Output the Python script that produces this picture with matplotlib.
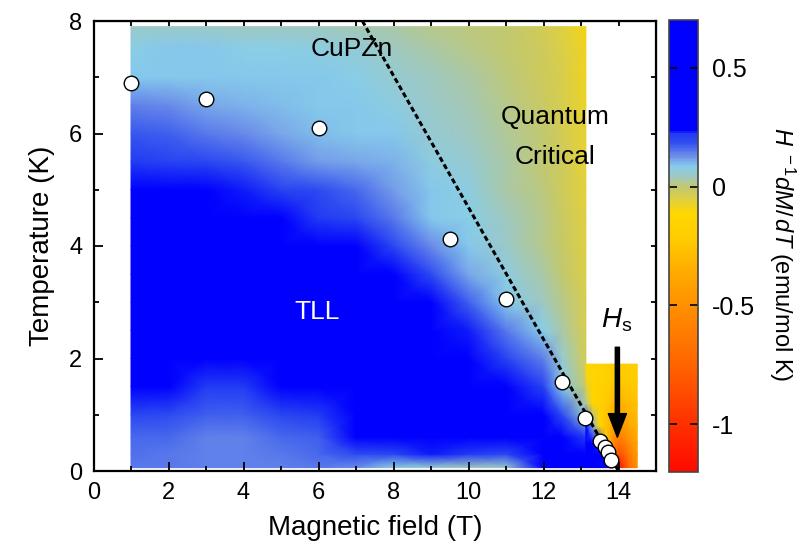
import numpy as np
import matplotlib
matplotlib.use("Agg")
import matplotlib.pyplot as plt
from matplotlib.colors import LinearSegmentedColormap

plt.rcParams['font.family'] = ['Liberation Sans', 'DejaVu Sans']
plt.rcParams['mathtext.fontset'] = 'custom'
plt.rcParams['mathtext.rm'] = 'Liberation Sans'
plt.rcParams['mathtext.it'] = 'Liberation Sans:italic'
plt.rcParams['axes.unicode_minus'] = False

# H^-1 dM/dT map, main block (rows = temperature, columns = field)
field_main = [1, 2, 3, 4, 5, 6, 7, 8, 9, 10, 11, 12, 12.5, 13.13]
temp_main = [0.06, 0.3, 0.6, 1.0, 1.5, 2.0, 2.5, 3.0, 3.5, 4.0, 4.5, 5.0,
             5.5, 6.0, 6.5, 7.0, 7.5, 7.9]
z_main = [
    [0.15, 0.15, 0.14, 0.14, 0.14, 0.15, 0.13, 0.07, 0.06, 0.04, 0.05, 0.28, 0.3, 0.3],
    [0.155, 0.15, 0.14, 0.14, 0.15, 0.16, 0.19, 0.2, 0.23, 0.22, 0.2, 0.32, 0.3, 0.3],
    [0.16, 0.16, 0.14, 0.14, 0.16, 0.17, 0.25, 0.3, 0.35, 0.4, 0.4, 0.35, 0.3, 0.22],
    [0.2, 0.19, 0.17, 0.17, 0.2, 0.22, 0.35, 0.45, 0.45, 0.45, 0.4, 0.3, 0.19, 0.06],
    [0.24, 0.24, 0.22, 0.22, 0.25, 0.3, 0.45, 0.45, 0.45, 0.4, 0.3, 0.21, 0.085, 0.0],
    [0.4, 0.4, 0.35, 0.35, 0.4, 0.45, 0.45, 0.45, 0.45, 0.3, 0.21, 0.14, 0.06, -0.03],
    [0.45, 0.45, 0.45, 0.45, 0.45, 0.45, 0.45, 0.4, 0.35, 0.23, 0.15, 0.08, 0.03, -0.035],
    [0.45, 0.45, 0.45, 0.45, 0.45, 0.4, 0.38, 0.3, 0.24, 0.17, 0.085, 0.045, 0.01, -0.04],
    [0.45, 0.45, 0.45, 0.45, 0.4, 0.33, 0.3, 0.24, 0.19, 0.11, 0.075, 0.025, 0.0, -0.045],
    [0.45, 0.45, 0.4, 0.35, 0.3, 0.26, 0.24, 0.2, 0.13, 0.085, 0.05, 0.015, -0.01, -0.05],
    [0.4, 0.35, 0.3, 0.28, 0.25, 0.22, 0.2, 0.15, 0.09, 0.08, 0.04, 0.01, -0.015, -0.055],
    [0.3, 0.27, 0.25, 0.23, 0.21, 0.19, 0.16, 0.12, 0.085, 0.07, 0.03, 0.005, -0.02, -0.06],
    [0.22, 0.21, 0.2, 0.18, 0.15, 0.12, 0.11, 0.1, 0.075, 0.06, 0.025, 0.0, -0.025, -0.065],
    [0.18, 0.17, 0.15, 0.13, 0.11, 0.095, 0.09, 0.085, 0.06, 0.045, 0.02, -0.005, -0.03, -0.07],
    [0.14, 0.13, 0.11, 0.1, 0.095, 0.09, 0.085, 0.075, 0.05, 0.035, 0.01, -0.015, -0.035, -0.075],
    [0.09, 0.09, 0.09, 0.09, 0.085, 0.085, 0.08, 0.06, 0.04, 0.025, 0.005, -0.02, -0.04, -0.08],
    [0.08, 0.085, 0.085, 0.08, 0.08, 0.075, 0.065, 0.045, 0.03, 0.015, 0.0, -0.025, -0.045, -0.085],
    [0.05, 0.05, 0.05, 0.045, 0.04, 0.04, 0.035, 0.025, 0.015, 0.005, -0.005, -0.03, -0.05, -0.09],
]

# high field block near saturation
field_hi = [13.13, 13.3, 13.5, 13.65, 13.8, 13.9, 14.0, 14.15, 14.3, 14.5]
temp_hi = [0.06, 0.3, 0.5, 0.8, 1.2, 1.6, 1.9]
z_hi = [
    [0.3, 0.3, 0.3, 0.3, 0.25, 0.05, -1.15, -0.95, -0.7, -0.5],
    [0.3, 0.3, 0.3, 0.25, -0.25, -0.6, -0.85, -0.75, -0.6, -0.45],
    [0.3, 0.28, 0.2, -0.15, -0.45, -0.6, -0.68, -0.62, -0.5, -0.4],
    [0.25, 0.1, -0.14, -0.25, -0.35, -0.42, -0.46, -0.44, -0.38, -0.32],
    [0.02, -0.13, -0.17, -0.22, -0.27, -0.31, -0.33, -0.31, -0.29, -0.26],
    [-0.08, -0.13, -0.15, -0.17, -0.2, -0.22, -0.24, -0.23, -0.22, -0.2],
    [-0.12, -0.14, -0.15, -0.16, -0.18, -0.19, -0.2, -0.2, -0.2, -0.18],
]

# crossover points
peak_field = [1.0, 3.0, 6.0, 9.5, 11.0, 12.5, 13.1, 13.5, 13.63, 13.72, 13.81]
peak_temp = [6.89, 6.61, 6.10, 4.12, 3.06, 1.58, 0.94, 0.53, 0.43, 0.33, 0.20]

line_field = [7.17, 14.0]
line_temp = [8.0, 0.0]

vmin, vmax = -1.2, 0.7
cmap_vals = [-1.2, -1.0, -0.72, -0.5, -0.34, -0.22, -0.11, -0.055, 0.0,
             0.043, 0.085, 0.127, 0.185, 0.228, 0.233, 0.7]
cmap_cols = ['#ff0a00', '#ff3000', '#ff6a00', '#ff9000', '#ffb000', '#ffcc00',
             '#ffd700', '#e0d040', '#c2c870', '#a0c8c0', '#87ceeb', '#7090e8',
             '#3050f0', '#2038f4', '#0000ff', '#0000ff']
cmap = LinearSegmentedColormap.from_list(
    'cupzn', [((v - vmin) / (vmax - vmin), c) for v, c in zip(cmap_vals, cmap_cols)])

fig = plt.figure(figsize=(8.07, 5.57), dpi=100)
ax = fig.add_axes([93.5 / 807, 86 / 557, 562.5 / 807, 450 / 557])

mesh = ax.pcolormesh(field_main, temp_main, np.array(z_main), shading='gouraud',
                     cmap=cmap, vmin=vmin, vmax=vmax)
ax.pcolormesh(field_hi, temp_hi, np.array(z_hi), shading='gouraud',
              cmap=cmap, vmin=vmin, vmax=vmax)

ax.plot(line_field, line_temp, color='black', lw=2.2, dashes=(1.7, 1.0), zorder=3)
ax.plot(peak_field, peak_temp, 'o', ms=10.5, mfc='white', mec='black', mew=1.0, zorder=4)

ax.annotate('', xy=(13.97, 0.6), xytext=(13.97, 2.2),
            arrowprops=dict(facecolor='black', edgecolor='black', width=3,
                            headwidth=13, headlength=17, shrink=0), zorder=5)

ax.text(6.89, 7.51, 'CuPZn', fontsize=19, ha='center', va='center')
ax.text(12.31, 6.29, 'Quantum', fontsize=19, ha='center', va='center')
ax.text(12.31, 5.58, 'Critical', fontsize=19, ha='center', va='center')
ax.text(5.96, 2.83, 'TLL', fontsize=19, color='white', ha='center', va='center')
ax.text(13.96, 2.68, r'$H_{\rm s}$', fontsize=20, ha='center', va='center')

ax.set_xlim(0, 15)
ax.set_ylim(0, 8)
ax.set_xticks(range(0, 15, 2))
ax.set_xticks(range(0, 16), minor=True)
ax.set_yticks(range(0, 9, 2))
ax.set_yticks(range(0, 9), minor=True)
ax.tick_params(which='major', direction='in', length=6.5, width=1.3, labelsize=17, pad=8)
ax.tick_params(which='minor', direction='in', length=3.5, width=1.3)
for s in ax.spines.values():
    s.set_linewidth(1.6)

top = ax.secondary_xaxis('top')
top.set_xticks(range(0, 16))
top.set_xticklabels([])
top.tick_params(direction='in', length=3.5, width=1.3)
right = ax.secondary_yaxis('right')
right.set_yticks(range(0, 9))
right.set_yticklabels([])
right.tick_params(direction='in', length=3.5, width=1.3)

ax.set_xlabel('Magnetic field (T)', fontsize=20, labelpad=8)
ax.set_ylabel('Temperature (K)', fontsize=20, labelpad=10)

cax = fig.add_axes([669 / 807, 85 / 557, 29 / 807, 452 / 557])
cb = fig.colorbar(mesh, cax=cax, ticks=[0.5, 0, -0.5, -1])
cb.ax.set_yticklabels(['0.5', '0', '-0.5', '-1'])
cb.ax.tick_params(direction='in', left=True, right=True, length=6, width=1.2,
                  labelsize=18, pad=10)
cb.outline.set_linewidth(1.2)
cb.outline.set_edgecolor('#444444')

fig.text(782 / 807, 1 - 254 / 557, r'$H^{\ -1}dM/\,dT$ (emu/mol K)', fontsize=17,
         rotation=270, ha='center', va='center')

fig.savefig('out.png', dpi=100)
